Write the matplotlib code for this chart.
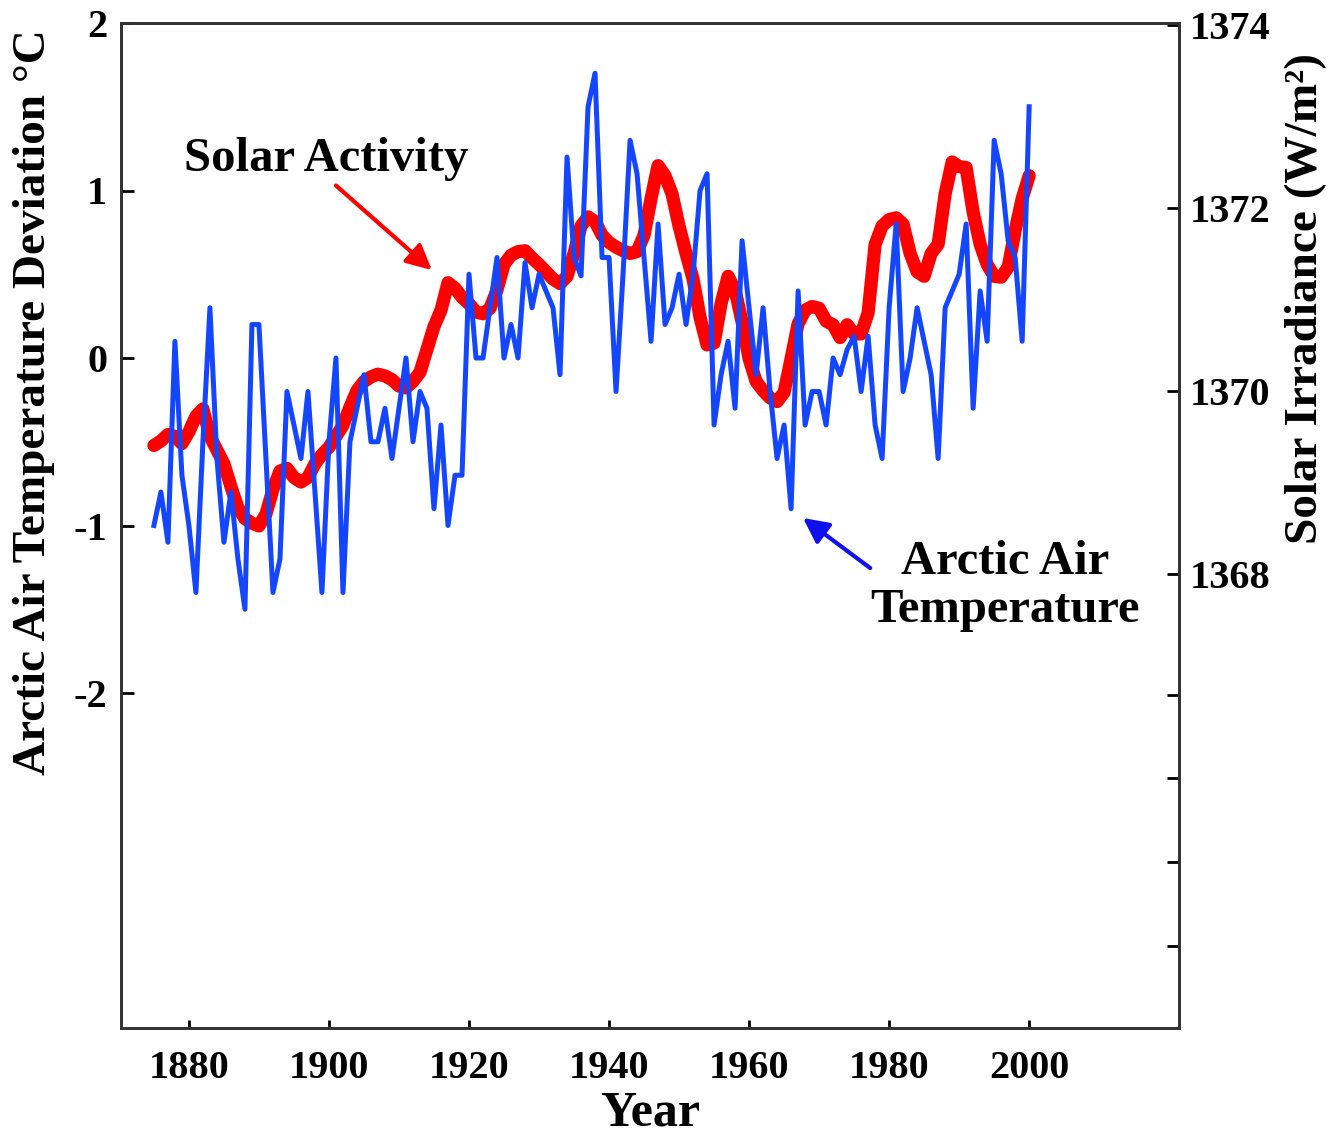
import numpy as np
import matplotlib
matplotlib.use("Agg")
import matplotlib.pyplot as plt

years = list(range(1875, 2001))

arctic_temp = [
    -1.00, -0.80, -1.10, 0.10, -0.70, -1.00, -1.40, -0.50, 0.30, -0.60,   # 1875-1884
    -1.10, -0.80, -1.20, -1.50, 0.20, 0.20, -0.60, -1.40, -1.20, -0.20,   # 1885-1894
    -0.40, -0.60, -0.20, -0.80, -1.40, -0.50, 0.00, -1.40, -0.50, -0.30,  # 1895-1904
    -0.10, -0.50, -0.50, -0.30, -0.60, -0.30, 0.00, -0.50, -0.20, -0.30,  # 1905-1914
    -0.90, -0.40, -1.00, -0.70, -0.70, 0.50, 0.00, 0.00, 0.30, 0.60,      # 1915-1924
    0.00, 0.20, 0.00, 0.57, 0.30, 0.50, 0.40, 0.30, -0.10, 1.20,          # 1925-1934
    0.60, 0.49, 1.50, 1.70, 0.60, 0.60, -0.20, 0.50, 1.30, 1.10,          # 1935-1944
    0.60, 0.10, 0.80, 0.20, 0.30, 0.50, 0.20, 0.50, 1.00, 1.10,           # 1945-1954
    -0.40, -0.10, 0.10, -0.30, 0.70, 0.30, -0.10, 0.30, -0.20, -0.60,     # 1955-1964
    -0.40, -0.90, 0.40, -0.40, -0.20, -0.20, -0.40, 0.00, -0.10, 0.05,    # 1965-1974
    0.13, -0.20, 0.13, -0.40, -0.60, 0.30, 0.80, -0.20, 0.00, 0.30,       # 1975-1984
    0.10, -0.10, -0.60, 0.30, 0.40, 0.50, 0.80, -0.30, 0.40, 0.10,        # 1985-1994
    1.30, 1.10, 0.70, 0.60, 0.10, 1.50,                                   # 1995-2000
]

solar_irradiance = [
    1369.40, 1369.45, 1369.52, 1369.50, 1369.42, 1369.55, 1369.72, 1369.80, 1369.50, 1369.35,
    1369.20, 1368.95, 1368.72, 1368.60, 1368.55, 1368.52, 1368.65, 1368.92, 1369.12, 1369.15,
    1369.05, 1369.00, 1369.05, 1369.20, 1369.30, 1369.38, 1369.50, 1369.62, 1369.82, 1370.00,
    1370.10, 1370.15, 1370.18, 1370.16, 1370.12, 1370.05, 1370.03, 1370.10, 1370.20, 1370.45,
    1370.70, 1370.88, 1371.18, 1371.12, 1371.02, 1370.95, 1370.86, 1370.84, 1370.90, 1371.10,
    1371.38, 1371.48, 1371.52, 1371.53, 1371.45, 1371.38, 1371.30, 1371.22, 1371.17, 1371.25,
    1371.50, 1371.80, 1371.90, 1371.85, 1371.70, 1371.62, 1371.57, 1371.53, 1371.50, 1371.52,
    1371.70, 1372.10, 1372.46, 1372.35, 1372.15, 1371.80, 1371.50, 1371.22, 1370.80, 1370.50,
    1370.52, 1370.95, 1371.25, 1371.10, 1370.75, 1370.35, 1370.10, 1370.00, 1369.92, 1369.88,
    1369.98, 1370.35, 1370.73, 1370.88, 1370.92, 1370.90, 1370.76, 1370.72, 1370.58, 1370.72,
    1370.62, 1370.62, 1370.85, 1371.60, 1371.80, 1371.87, 1371.89, 1371.82, 1371.50, 1371.30,
    1371.25, 1371.50, 1371.60, 1372.15, 1372.50, 1372.45, 1372.44, 1371.95, 1371.60, 1371.38,
    1371.25, 1371.24, 1371.35, 1371.75, 1372.10, 1372.35,
]

x_ticks = [1880, 1900, 1920, 1940, 1960, 1980, 2000]
left_ticks = [-2, -1, 0, 1, 2]
right_ticks = [1368, 1370, 1372, 1374]

plt.rcParams['font.family'] = ['Liberation Serif', 'DejaVu Serif']
plt.rcParams['font.weight'] = 'bold'

fig = plt.figure(figsize=(13.34, 11.37), dpi=100)
ax = fig.add_axes([121/1334, 1 - 1028/1137, (1179 - 121)/1334, (1028 - 23)/1137])
ax2 = ax.twinx()

ax.plot(years, arctic_temp, color='#1446ff', lw=3.6, zorder=2)
ax2.plot(years, solar_irradiance, color='#ff0000', lw=9.5, zorder=3,
         solid_capstyle='round', solid_joinstyle='round')

ax.set_xlim(1870.3, 2021.4)
ax.set_ylim(-4.0, 2.0)
ax2.set_ylim(1363.03, 1374.02)

ax.set_zorder(ax2.get_zorder() + 1)
ax.patch.set_visible(False)

fs = 29
ax.set_xticks(x_ticks)
ax.set_xticklabels([str(t) for t in x_ticks], fontsize=fs, fontweight='bold')
ax.set_yticks(left_ticks)
ax.set_yticklabels([str(t) for t in left_ticks], fontsize=fs, fontweight='bold')
ax2.set_yticks(right_ticks)
ax2.set_yticklabels([str(t) for t in right_ticks], fontsize=fs, fontweight='bold')
ax2.set_yticks([1366.67, 1365.76, 1364.85, 1363.93], minor=True)

ax.tick_params(axis='x', direction='in', length=6, width=2, pad=16)
ax.tick_params(axis='y', direction='in', length=9, width=2, pad=10)
ax2.tick_params(axis='y', which='major', direction='in', length=9, width=2, pad=8)
ax2.tick_params(axis='y', which='minor', direction='in', length=9, width=2)

for a in (ax, ax2):
    for s in a.spines.values():
        s.set_linewidth(2)
        s.set_color('#333333')

ax.set_xlabel('Year', fontsize=36, fontweight='bold', labelpad=2)
ax.set_ylabel('Arctic Air Temperature Deviation \u00b0C', fontsize=34, fontweight='bold')
ax.yaxis.set_label_coords(-0.062, 0.623)
ax2.set_ylabel('Solar Irradiance (W/m\u00b2)', fontsize=34, fontweight='bold', rotation=90)
ax2.yaxis.set_label_coords(1.1, 0.726)

ax.text(1899.6, 1.19, 'Solar Activity', fontsize=35, fontweight='bold',
        ha='center', va='center')
ax.annotate('', xy=(1914.7, 0.525), xytext=(1901.0, 1.03),
            arrowprops=dict(arrowstyle='-|>', color='#ff0000', lw=3,
                            mutation_scale=38, shrinkA=0, shrinkB=0))

ax.text(1996.6, -1.36, 'Arctic Air\nTemperature', fontsize=35, fontweight='bold',
        ha='center', va='center', linespacing=1.1)
ax.annotate('', xy=(1967.7, -0.955), xytext=(1977.3, -1.254),
            arrowprops=dict(arrowstyle='-|>', color='#1010ee', lw=3,
                            mutation_scale=38, shrinkA=0, shrinkB=0))

fig.savefig('out.png', dpi=100, facecolor='white')
